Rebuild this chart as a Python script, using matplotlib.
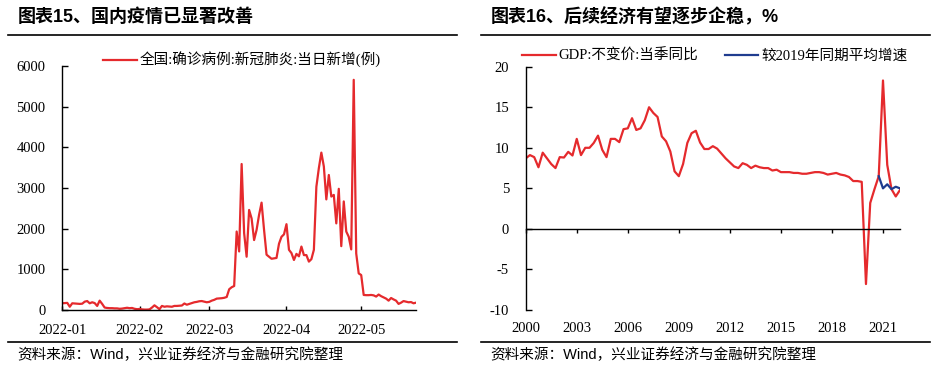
import matplotlib
matplotlib.use("Agg")
import matplotlib.pyplot as plt
import matplotlib.dates as mdates
from matplotlib.lines import Line2D
import numpy as np
import pandas as pd

plt.rcParams['font.family'] = ['Liberation Serif', 'Noto Sans CJK SC']
plt.rcParams['axes.unicode_minus'] = False

# ---- data: chart 15, daily new confirmed cases (Jan 1 2022 onward)
case_start = "2022-01-01"
cases = [165, 170, 175, 80, 165, 160, 155, 150, 155, 205,
         220, 165, 190, 170, 100, 230, 150, 60, 50, 45,
         45, 40, 40, 30, 35, 45, 55, 45, 50, 30,
         20, 25, 15, 10, 10, 15, 60, 115, 70, 20,
         100, 80, 90, 85, 80, 100, 100, 105, 110, 160,
         130, 150, 170, 190, 200, 215, 220, 205, 190, 200,
         230, 250, 280, 285, 290, 300, 320, 510, 560, 590,
         1930, 1440, 3590, 1890, 1310, 2460, 2250, 1720, 1970, 2340,
         2640, 1970, 1360, 1310, 1260, 1270, 1280, 1630, 1800, 1860,
         2110, 1480, 1400, 1230, 1380, 1320, 1560, 1350, 1350, 1190,
         1250, 1480, 3030, 3490, 3870, 3530, 2720, 3320, 2790, 2830,
         2130, 2980, 1570, 2670, 1930, 1800, 1490, 5660, 1390, 900,
         860, 370, 365, 365, 370, 360, 330, 380, 340, 310,
         280, 230, 295, 260, 230, 150, 180, 220, 205, 190,
         195, 165, 180]
case_label = "全国:确诊病例:新冠肺炎:当日新增(例)"

# ---- data: chart 16, quarterly GDP yoy from 2000Q1
gdp_yoy = [8.7, 9.1, 8.85, 7.6, 9.4, 8.7, 8.0, 7.5, 8.85, 8.8, 9.5, 9.05,
           11.1, 9.1, 10.0, 10.0, 10.6, 11.5, 9.75, 8.85, 11.1, 11.1, 10.7, 12.3,
           12.4, 13.65, 12.2, 12.4, 13.4, 15.0, 14.3, 13.8, 11.4, 10.8, 9.55, 7.1,
           6.5, 8.0, 10.6, 11.8, 12.1, 10.65, 9.85, 9.85, 10.2, 9.9, 9.3, 8.7,
           8.2, 7.7, 7.5, 8.1, 7.9, 7.5, 7.8, 7.6, 7.5, 7.5, 7.2, 7.3,
           7.0, 7.0, 7.0, 6.9, 6.9, 6.8, 6.8, 6.9, 7.0, 7.0, 6.9, 6.7,
           6.8, 6.9, 6.7, 6.6, 6.4, 5.9, 5.9, 5.8, -6.8, 3.2, 4.9, 6.5,
           18.3, 7.9, 4.9, 4.0, 4.8]
avg_2019 = [6.5, 5.0, 5.5, 4.9, 5.2, 5.0]   # 2020Q4 .. 2022Q1
avg_start = 83
year_labels = ['2000', '2003', '2006', '2009', '2012', '2015', '2018', '2021']
gdp_label = "GDP:不变价:当季同比"
avg_label = "较2019年同期平均增速"

RED = "#E52A2D"
BLUE = "#1F3C8F"
W, H = 939, 369

fig = plt.figure(figsize=(9.39, 3.69), dpi=100)

def fx(px):
    return px / W

def fy(py):
    return 1 - py / H

title_font = dict(family=['Liberation Sans', 'Noto Sans CJK SC'], weight='bold', size=13)
src_font = dict(family=['Liberation Sans', 'Noto Sans CJK SC'], size=10.5)

# header / footer rules and text
for x0, x1, title, tx in [(8, 457, "图表15、国内疫情已显著改善", 18),
                          (481, 930, "图表16、后续经济有望逐步企稳，%", 491)]:
    fig.add_artist(Line2D([fx(x0), fx(x1)], [fy(35), fy(35)], color='black', lw=1.2))
    fig.add_artist(Line2D([fx(x0), fx(x1)], [fy(342), fy(342)], color='black', lw=1.2))
    fig.text(fx(tx), fy(17), title, ha='left', va='center', **title_font)
    fig.text(fx(x0 + 9), fy(355), "资料来源：Wind，兴业证券经济与金融研究院整理",
             ha='left', va='center', **src_font)

# ---- left chart
ax1 = fig.add_axes([fx(62.3), fy(310), fx(416 - 62.3), (310 - 66) / H])
dates = pd.date_range(case_start, periods=len(cases), freq='D')
ax1.plot(dates, cases, color=RED, lw=1.6, label=case_label)
ax1.set_xlim(dates[0], dates[-1])
ax1.set_ylim(0, 6000)
ax1.set_yticks(np.arange(0, 6001, 1000))
ax1.xaxis.set_major_locator(mdates.MonthLocator())
ax1.xaxis.set_major_formatter(mdates.DateFormatter('%Y-%m'))
for s in ['top', 'right']:
    ax1.spines[s].set_visible(False)
for s in ['left', 'bottom']:
    ax1.spines[s].set_linewidth(1.0)
ax1.tick_params(axis='y', direction='in', length=4, width=1, pad=12, labelsize=10.5)
ax1.tick_params(axis='x', direction='in', length=3, width=1, pad=10, labelsize=10.5)
ax1.legend(loc='center left', bbox_to_anchor=(fx(96), fy(60)), bbox_transform=fig.transFigure,
           frameon=False, borderpad=0, handlelength=2.3, handletextpad=0.2, fontsize=10.5)

# ---- right chart
ax2 = fig.add_axes([fx(525.7), fy(310), fx(900 - 525.7), (310 - 66.7) / H])
qx = np.arange(len(gdp_yoy))
ax2.plot(qx, gdp_yoy, color=RED, lw=1.6, label=gdp_label)
ax2.plot(qx[avg_start:avg_start + len(avg_2019)], avg_2019, color=BLUE, lw=1.6, label=avg_label)
ax2.set_xlim(0, len(gdp_yoy) - 1)
ax2.set_ylim(-10, 20)
ax2.set_yticks(np.arange(-10, 21, 5))
ax2.spines['top'].set_visible(False)
ax2.spines['right'].set_visible(False)
ax2.spines['bottom'].set_position(('data', 0))
ax2.spines['left'].set_linewidth(1.0)
ax2.spines['bottom'].set_linewidth(1.0)
tick_pos = [i * 12 for i in range(len(year_labels))]
ax2.set_xticks(tick_pos)
ax2.set_xticklabels([])
ax2.tick_params(axis='x', direction='out', length=3, width=1)
ax2.tick_params(axis='y', direction='in', length=4, width=1, pad=12, labelsize=10.5)
for p, lab in zip(tick_pos, year_labels):
    ax2.text(p, -0.075, lab, transform=ax2.get_xaxis_transform(), ha='center', va='center',
             fontsize=10.5)
ax2.legend(loc='center left', bbox_to_anchor=(fx(515), fy(56)), bbox_transform=fig.transFigure,
           frameon=False, borderpad=0, ncol=2, handlelength=2.3, handletextpad=0.2,
           columnspacing=1.8, fontsize=10.5)

fig.savefig("out.png", dpi=100)
